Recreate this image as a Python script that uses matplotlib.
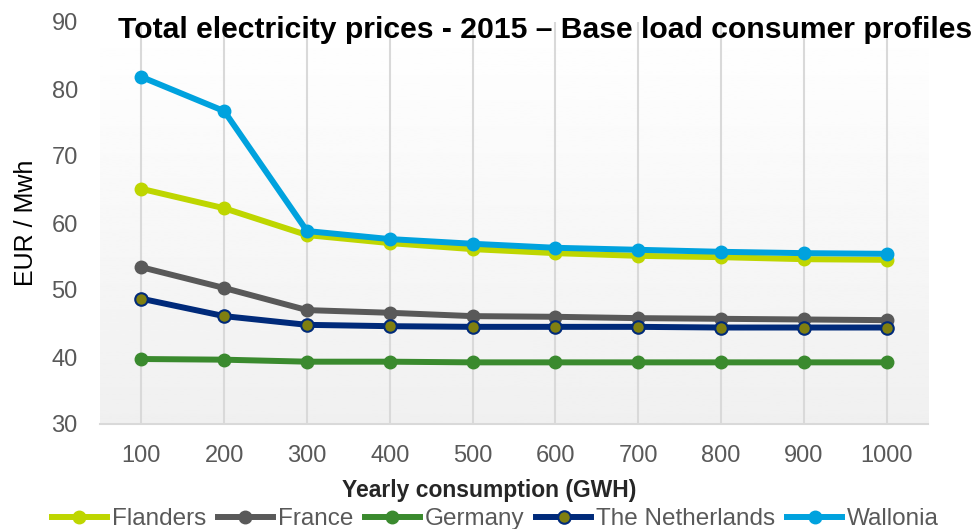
import numpy as np
import matplotlib as mpl
mpl.use('Agg')
import matplotlib.pyplot as plt

plt.rcParams['font.family'] = ['Liberation Sans', 'DejaVu Sans']

# data
consumption = ['100', '200', '300', '400', '500', '600', '700', '800', '900', '1000']
flanders = [65.1, 62.2, 58.2, 57.0, 56.1, 55.5, 55.1, 54.9, 54.6, 54.5]
france = [53.4, 50.3, 47.0, 46.6, 46.1, 46.0, 45.8, 45.7, 45.6, 45.5]
germany = [39.7, 39.6, 39.3, 39.3, 39.2, 39.2, 39.2, 39.2, 39.2, 39.2]
netherlands = [48.7, 46.1, 44.8, 44.6, 44.5, 44.5, 44.5, 44.4, 44.4, 44.4]
wallonia = [81.8, 76.7, 58.8, 57.6, 56.9, 56.3, 56.0, 55.7, 55.5, 55.4]

fig = plt.figure(figsize=(9.8, 5.29), dpi=100)
ax = fig.add_axes([100/980, 1-424/529, 828/980, 402/529])

x = np.arange(len(consumption))

# soft vertical gradient behind the plot
grad = np.linspace(0.94, 1.0, 256).reshape(-1, 1)
ax.imshow(grad, cmap='gray', vmin=0, vmax=1, aspect='auto', origin='lower',
          extent=[-0.5, len(x) - 0.5, 30, 90], zorder=0)

for xi in x:
    ax.axvline(xi, color='#d9d9d9', lw=1.5, zorder=1)

lw = 4.3
ms = 9
ax.plot(x, flanders, color='#bed600', lw=lw, marker='o', ms=ms, label='Flanders', zorder=3)
ax.plot(x, france, color='#595959', lw=lw, marker='o', ms=ms, label='France', zorder=3)
ax.plot(x, germany, color='#3a8a2e', lw=lw, marker='o', ms=ms, label='Germany', zorder=3)
ax.plot(x, netherlands, color='#002a7a', lw=lw, marker='o', ms=ms,
        markerfacecolor='#7f7f10', markeredgecolor='#002a7a', markeredgewidth=1.5,
        label='The Netherlands', zorder=3)
ax.plot(x, wallonia, color='#00a2de', lw=lw, marker='o', ms=ms, label='Wallonia', zorder=4)

ax.set_xlim(-0.5, len(x) - 0.5)
ax.set_ylim(30, 90)
ax.set_yticks(range(30, 91, 10))
ax.set_xticks(x)
ax.set_xticklabels(consumption)
ax.tick_params(labelsize=17, labelcolor='#595959', length=0)
ax.tick_params(axis='y', pad=16)
ax.tick_params(axis='x', pad=15)
for s in ax.spines.values():
    s.set_visible(False)
ax.spines['bottom'].set_visible(True)
ax.spines['bottom'].set_color('#d9d9d9')
ax.spines['bottom'].set_linewidth(1.5)

ax.set_ylabel('EUR / Mwh', fontsize=18, labelpad=10)
fig.text(489/980, 1-497/529, 'Yearly consumption (GWH)', ha='center', va='baseline',
         fontsize=16.5, fontweight='bold', color='#262626')

fig.text(545/980, 1-38/529, 'Total electricity prices - 2015 \u2013 Base load consumer profiles',
         ha='center', va='baseline', fontsize=21.7, fontweight='bold', color='black')

fig.legend(loc='center', bbox_to_anchor=(0.5055, 1-519/529), ncol=5, frameon=False,
           fontsize=17.5, labelcolor='#595959', handlelength=2.25, handletextpad=0.2,
           columnspacing=0.5)

plt.savefig('out.png', dpi=100)
